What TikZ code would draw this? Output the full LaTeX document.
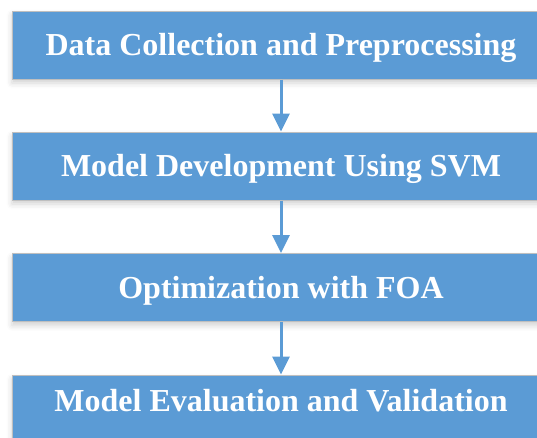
\documentclass[tikz,border=0pt]{standalone}
\usepackage{fontspec}
\setmainfont{Liberation Serif}
\usetikzlibrary{arrows.meta,shadows.blur}

\definecolor{stepblue}{HTML}{5B9BD5}
\definecolor{stepedge}{HTML}{BFBFBF}

\begin{document}
\begin{tikzpicture}[x = 0.75pt, y = -0.75pt,
    stagebox/.style = {%
        draw = stepedge, line width = 0.75pt, fill = stepblue,
        minimum width = 403.5pt, minimum height = 51pt,
        text height = 15.75pt, text depth = 0pt, inner sep = 0pt,
        text = white, font = \fontsize{24pt}{28pt}\selectfont\bfseries,
        blur shadow = {shadow xshift = 0pt, shadow yshift = -3pt,
            shadow blur radius = 4pt, shadow opacity = 18}},
    flow/.style = {%
        draw = stepblue, line width = 2.25pt,
        -{Triangle[width = 12.75pt, length = 13.5pt]}}]

        % Page size, the boxes run past the right edge.
        \clip (0, 0) rectangle (537, 437);

        % Centres of the four stages.
        \coordinate (S1) at (281, 45);
        \coordinate (S2) at (281, 166);
        \coordinate (S3) at (281, 287.5);
        \coordinate (S4) at (281, 409);

        % The stages.
        \node[stagebox] (data) at (S1) {Data Collection and Preprocessing};
        \node[stagebox] (svm) at (S2) {Model Development Using SVM};
        \node[stagebox] (foa) at (S3) {Optimization with FOA};
        \node[stagebox, text depth = 12pt] (eval) at (S4) {Model Evaluation and Validation};

        % Arrows between them.
        \draw[flow] (data) to (svm);
        \draw[flow] (svm) to (foa);
        \draw[flow] (foa) to (eval);
    \end{tikzpicture}
\end{document}
